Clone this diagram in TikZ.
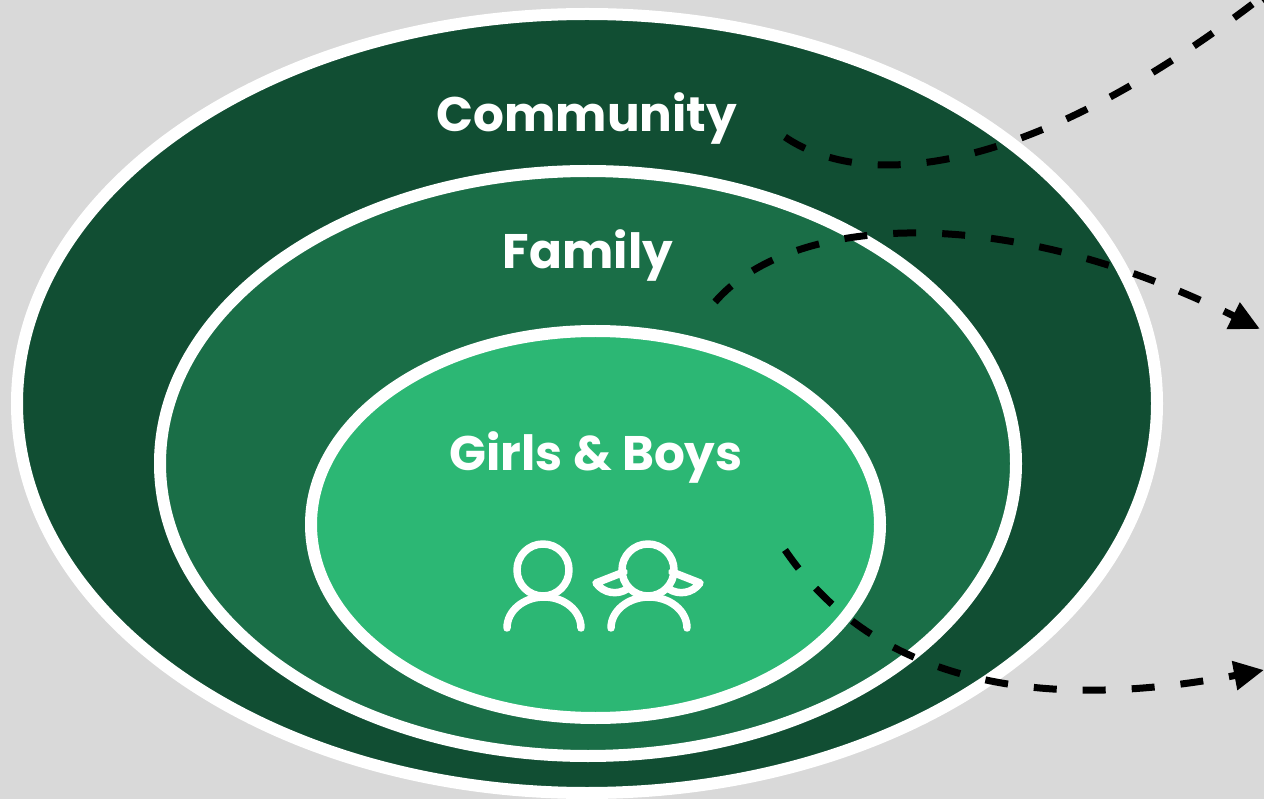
\documentclass[tikz,border=0pt]{standalone}
\usepackage{fontspec}
\setmainfont{Poppins}
\usetikzlibrary{shapes.geometric,arrows.meta}
\definecolor{bgc}{HTML}{D9D9D9}
\definecolor{gdark}{HTML}{114E33}
\definecolor{gmid}{HTML}{1A6E47}
\definecolor{glight}{HTML}{2CB774}
\tikzset{
  ring/.style={ellipse, draw=white, line width=12pt, inner sep=0pt, outer sep=0pt},
  lbl/.style={text=white, font=\fontsize{48.5}{54}\selectfont\bfseries, anchor=base, inner sep=0pt},
  flow/.style={line width=7pt, dash pattern=on 23pt off 26pt, -{Triangle[length=30pt,width=28pt]}},
  icon/.style={draw=white, line width=7.5pt, line cap=round, line join=round}
}
\begin{document}
\begin{tikzpicture}[x=1pt,y=-1pt]
\useasboundingbox (0,0) rectangle (1264,799);
\fill[bgc] (0,0) rectangle (1264,799);
\clip (0,0) rectangle (1264,799);
\node[ring, fill=gdark, minimum width=1140pt, minimum height=779pt] (community ring) at (587,403.5) {};
\node[ring, fill=gmid, minimum width=856pt, minimum height=585pt] (family ring) at (588,463.5) {};
\node[ring, fill=glight, minimum width=569pt, minimum height=387pt] (child ring) at (595.5,524.5) {};
\node[lbl] (community) at (587,132) {Community};
\node[lbl] (family) at (588,269) {Family};
\node[lbl] (children) at (596,470) {Girls \& Boys};
% boy icon
\draw[icon] (543,570) circle[radius=26];
\draw[icon] (507,628) arc[start angle=180, end angle=360, x radius=37, y radius=31];
% girl icon
\draw[icon] (648,570) circle[radius=26];
\draw[icon] (611,628) arc[start angle=180, end angle=360, x radius=38, y radius=31];
\draw[icon] (624,572) -- (596,583) .. controls (604,594) and (618,595) .. (627,589);
\draw[icon] (672,572) -- (700,583) .. controls (692,594) and (678,595) .. (669,589);
% flows
\coordinate (s1) at (785,137);
\coordinate (e1) at (1284,-20);
\coordinate (s2) at (715,302);
\coordinate (e2) at (1260,329);
\coordinate (s3) at (785,550);
\coordinate (e3) at (1264,670);
\draw[flow] (s1) .. controls (855,185) and (1010,190) .. (e1);
\draw[flow] (s2) .. controls (790,215) and (1000,200) .. (e2);
\draw[flow] (s3) .. controls (860,660) and (1000,720) .. (e3);
\end{tikzpicture}
\end{document}
